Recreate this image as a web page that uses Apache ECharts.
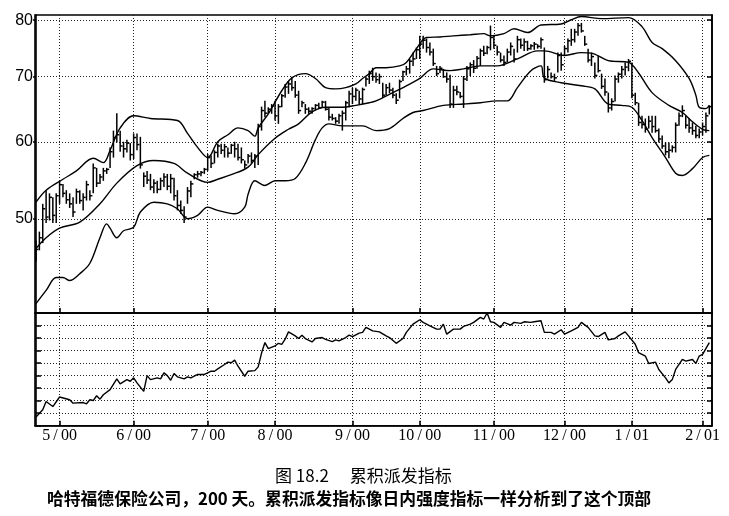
<!DOCTYPE html>
<html>
<head>
<meta charset="utf-8">
<script src="https://cdn.jsdelivr.net/npm/echarts@6/dist/echarts.min.js"></script>
<style>
  html, body { margin: 0; padding: 0; background: #fff; }
  #chart { width: 729px; height: 516px; }
</style>
</head>
<body>
<div id="chart"></div>
<script>
// trading-day index of each month start, and its label
const monthStarts = [7, 29, 51, 71, 94, 114, 136, 157, 177, 198];
const monthLabels = ['5/00', '6/00', '7/00', '8/00', '9/00', '10/00', '11/00', '12/00', '1/01', '2/01'];
const priceTicks = [50, 60, 70, 80];
const priceMin = 40;
const priceMax = 81;

// daily bars, one per trading day
const highs = [
  47.5, 48.5, 51.8, 53.5, 53.1, 52.6, 53.1, 54.7, 54.3, 53.5,
  53.1, 52.6, 53.7, 53.5, 53.1, 54.7, 53.5, 57.0, 56.4, 55.6,
  56.4, 56.4, 59.2, 61.6, 64.2, 61.6, 60.0, 60.3, 59.8, 61.2,
  61.2, 60.7, 55.8, 56.0, 55.6, 54.9, 54.7, 55.1, 55.7, 55.6,
  55.6, 55.1, 53.5, 52.2, 51.5, 53.9, 54.7, 55.7, 56.0, 56.0,
  56.4, 58.3, 58.1, 58.8, 59.7, 59.7, 59.7, 59.2, 59.7, 60.0,
  59.7, 59.2, 57.4, 58.3, 58.5, 58.3, 62.6, 65.2, 66.1, 65.1,
  65.6, 66.1, 65.6, 67.2, 68.8, 69.3, 70.0, 69.3, 67.7, 66.1,
  65.6, 65.1, 65.1, 65.6, 65.8, 66.1, 66.1, 65.1, 64.1, 63.6,
  64.1, 64.6, 66.1, 67.7, 68.2, 68.2, 67.7, 68.2, 70.0, 71.0,
  71.5, 70.7, 70.5, 69.0, 68.8, 69.0, 68.2, 67.3, 69.5, 71.0,
  71.8, 73.0, 74.1, 75.0, 77.1, 77.1, 76.6, 75.9, 74.8, 71.8,
  71.8, 71.3, 70.7, 70.3, 68.5, 68.5, 67.5, 70.1, 71.8, 72.4,
  72.8, 73.5, 74.8, 75.3, 75.3, 79.0, 77.1, 75.3, 74.1, 73.6,
  74.8, 75.9, 74.8, 77.1, 76.6, 76.6, 76.2, 75.6, 76.0, 75.6,
  76.8, 75.0, 71.8, 70.7, 70.5, 74.1, 74.1, 75.3, 76.6, 78.4,
  78.4, 79.5, 79.5, 77.1, 74.8, 74.1, 72.4, 73.6, 70.5, 69.7,
  67.4, 66.5, 70.2, 70.7, 71.8, 72.4, 73.0, 72.4, 67.4, 65.8,
  63.8, 63.4, 63.8, 63.8, 63.8, 61.9, 60.9, 59.9, 59.9, 59.5,
  62.8, 64.3, 65.4, 63.8, 63.4, 62.8, 62.3, 61.9, 62.8, 64.3,
  65.4
];
const lows = [
  45.2, 46.4, 47.2, 49.5, 49.8, 49.5, 49.5, 51.8, 52.6, 51.8,
  51.3, 50.2, 51.8, 51.8, 51.0, 52.2, 52.2, 53.1, 53.9, 54.3,
  54.7, 55.6, 56.4, 57.8, 59.9, 58.6, 57.8, 58.5, 57.4, 57.6,
  58.8, 56.3, 53.9, 54.3, 53.5, 53.1, 53.1, 53.5, 53.9, 53.5,
  53.1, 52.2, 51.0, 50.6, 49.5, 51.8, 52.6, 54.9, 55.1, 55.3,
  55.6, 56.0, 56.4, 57.0, 57.8, 58.3, 57.8, 57.8, 58.3, 57.8,
  57.4, 57.0, 56.3, 57.0, 57.0, 56.4, 56.8, 61.6, 63.6, 64.1,
  64.1, 63.1, 62.6, 65.1, 66.6, 67.2, 67.7, 66.6, 64.1, 65.1,
  64.1, 64.1, 64.1, 64.6, 64.8, 65.1, 64.6, 63.1, 63.1, 62.6,
  62.6, 61.6, 63.1, 65.1, 65.6, 66.1, 65.6, 65.6, 68.4, 68.8,
  69.3, 69.0, 68.8, 66.6, 67.0, 67.3, 66.5, 65.6, 66.5, 69.3,
  70.2, 70.5, 71.8, 73.0, 73.0, 74.8, 74.1, 73.6, 71.8, 70.1,
  70.6, 69.8, 69.0, 65.0, 65.0, 67.0, 66.5, 65.0, 69.3, 70.1,
  70.6, 71.3, 71.8, 73.5, 73.8, 74.5, 74.8, 73.6, 72.4, 71.8,
  72.4, 73.6, 72.4, 74.1, 74.8, 74.4, 74.4, 74.6, 74.6, 74.8,
  74.8, 69.0, 69.7, 69.7, 69.3, 70.7, 71.0, 73.6, 74.1, 75.3,
  75.9, 77.1, 77.7, 75.3, 72.4, 71.8, 69.7, 70.7, 68.0, 66.9,
  64.3, 64.6, 66.0, 69.0, 69.7, 70.2, 70.9, 66.5, 65.4, 62.3,
  61.9, 61.3, 61.9, 61.3, 61.3, 59.9, 59.0, 58.1, 57.7, 58.5,
  58.5, 62.3, 63.6, 61.9, 61.3, 61.0, 60.5, 60.5, 60.9, 61.3,
  64.0
];
const closes = [
  46.5, 47.8, 51.2, 50.2, 52.6, 50.4, 52.8, 54.2, 53.1, 52.3,
  51.8, 50.8, 53.3, 52.2, 52.6, 54.2, 52.8, 56.4, 54.4, 55.2,
  56.0, 56.2, 58.6, 60.6, 61.0, 59.4, 59.0, 59.8, 58.2, 60.6,
  59.6, 56.8, 55.3, 54.8, 53.9, 54.4, 53.6, 54.7, 55.2, 54.0,
  55.0, 52.8, 51.6, 51.0, 50.2, 53.4, 54.3, 55.5, 55.6, 55.8,
  56.2, 57.8, 57.0, 58.5, 59.4, 58.8, 59.3, 58.4, 59.5, 59.0,
  57.8, 57.5, 56.8, 58.0, 57.4, 58.0, 62.2, 64.6, 64.2, 64.8,
  65.3, 63.8, 65.2, 66.9, 68.3, 68.8, 68.2, 67.0, 64.6, 65.8,
  64.8, 64.5, 64.9, 65.4, 65.0, 65.9, 64.8, 63.6, 63.4, 63.0,
  63.8, 64.2, 65.8, 67.2, 66.8, 67.8, 66.4, 67.9, 69.6, 70.5,
  70.0, 69.5, 70.0, 67.0, 68.2, 67.8, 67.0, 66.2, 69.2, 70.8,
  71.3, 72.6, 73.0, 74.6, 75.6, 76.3, 75.0, 74.2, 72.2, 70.5,
  71.4, 70.0, 69.6, 65.6, 67.8, 67.5, 66.8, 69.6, 71.3, 72.0,
  71.4, 73.1, 74.4, 74.0, 75.0, 76.8, 75.4, 74.2, 72.8, 72.4,
  74.2, 75.2, 73.0, 76.4, 75.4, 76.0, 74.8, 75.3, 75.6, 75.2,
  76.4, 69.5, 71.2, 70.0, 69.8, 73.6, 72.0, 74.8, 76.2, 76.4,
  77.8, 79.0, 78.0, 75.6, 72.8, 73.4, 70.2, 71.0, 68.4, 67.5,
  65.0, 66.0, 69.6, 70.4, 71.2, 71.6, 72.6, 67.0, 65.8, 62.8,
  62.5, 61.8, 63.0, 62.2, 61.6, 60.4, 59.4, 58.6, 58.8, 59.2,
  62.4, 63.8, 64.6, 62.4, 62.0, 61.6, 60.9, 61.4, 62.2, 63.8,
  65.2
];

// Bollinger bands: [day, price]
const upperBand = [
  [0, 52.0], [3, 53.5], [8, 54.9], [12, 56.0], [17, 57.7], [20, 57.1], [22, 58.8],
  [25, 62.0], [29, 63.8], [34, 63.4], [42, 63.1], [45, 61.2], [48, 59.2], [51, 57.8],
  [54, 60.0], [57, 61.0], [60, 62.0], [63, 61.6], [65, 60.8], [66, 62.0], [69, 64.1],
  [73, 67.7], [76, 69.8], [80, 70.5], [83, 69.7], [86, 68.2], [89, 68.0], [92, 68.2],
  [95, 68.8], [97, 69.7], [99, 70.5], [101, 71.5], [104, 71.5], [108, 71.8], [110, 72.4],
  [113, 74.8], [116, 76.8], [120, 76.9], [124, 77.1], [129, 77.3], [133, 77.5], [135, 77.1],
  [139, 77.5], [142, 78.4], [146, 77.7], [150, 79.1], [156, 79.3], [159, 80.1], [162, 80.7],
  [168, 80.3], [176, 80.5], [180, 78.8], [183, 75.9], [186, 74.8], [190, 72.7], [194, 69.7],
  [196, 67.0], [197, 65.1], [199, 64.9], [200, 65.4]
];
const middleBand = [
  [0, 46.6], [3, 47.8], [7, 48.9], [13, 49.6], [19, 51.8], [24, 54.4], [30, 56.7],
  [35, 57.4], [41, 57.0], [45, 55.7], [51, 54.5], [54, 54.9], [58, 55.5], [63, 56.5],
  [66, 58.2], [71, 60.5], [75, 61.8], [78, 62.6], [82, 64.4], [86, 65.1], [91, 65.1],
  [95, 65.4], [99, 65.8], [101, 66.1], [106, 67.4], [110, 68.5], [114, 69.7], [118, 71.3],
  [123, 71.0], [127, 71.3], [132, 71.8], [137, 71.8], [143, 73.0], [149, 74.4], [151, 74.4],
  [157, 73.6], [162, 74.1], [165, 74.0], [170, 72.7], [176, 72.4], [179, 70.6], [183, 67.4],
  [188, 65.4], [192, 64.3], [195, 62.9], [198, 61.8], [200, 61.6]
];
const lowerBand = [
  [0, 40.9], [3, 42.2], [6, 43.5], [8, 43.5], [10, 43.2], [13, 43.9], [16, 45.0],
  [19, 47.8], [21, 49.4], [22, 48.9], [24, 47.8], [26, 48.6], [29, 49.0], [31, 50.8],
  [35, 52.0], [39, 51.8], [42, 51.2], [45, 50.0], [48, 50.4], [51, 51.4], [54, 51.0],
  [59, 50.6], [62, 51.4], [63, 53.0], [65, 54.7], [68, 54.1], [71, 54.7], [74, 54.7],
  [77, 55.0], [80, 57.0], [83, 60.3], [85, 62.0], [87, 62.6], [91, 62.3], [97, 62.3],
  [101, 61.6], [105, 61.9], [109, 63.4], [112, 64.3], [115, 64.6], [121, 65.4], [127, 65.6],
  [132, 65.8], [137, 66.1], [140, 66.1], [143, 68.2], [147, 71.0], [150, 71.8], [151, 69.8],
  [156, 69.0], [162, 68.5], [166, 68.0], [170, 65.6], [174, 65.4], [177, 65.1], [180, 63.1],
  [183, 60.6], [187, 57.8], [190, 55.7], [192, 55.4], [195, 56.3], [198, 57.8], [200, 58.1]
];

// accumulation/distribution line, in grid units of the lower panel: [day, value]
const adLine = [
  [0, 0.7], [2, 1.27], [3, 1.93], [5, 1.53], [7, 2.29], [10, 2.07], [11, 1.8], [14, 1.85],
  [15, 1.75], [16, 2.07], [17, 2.01], [18, 2.39], [19, 2.12], [20, 2.47], [22, 2.88],
  [24, 3.74], [25, 3.34], [27, 3.68], [28, 3.55], [29, 3.82], [30, 3.42], [32, 2.74],
  [33, 4.0], [34, 3.68], [36, 3.82], [37, 3.74], [38, 4.22], [39, 4.0], [40, 3.63],
  [41, 4.17], [42, 3.9], [44, 3.74], [45, 3.9], [46, 3.82], [48, 4.09], [50, 4.09],
  [51, 4.22], [52, 4.35], [53, 4.35], [54, 4.54], [56, 4.89], [57, 5.08], [58, 5.03],
  [59, 5.24], [60, 4.75], [62, 3.95], [63, 4.35], [65, 4.4], [66, 4.7], [67, 5.8],
  [68, 6.64], [69, 6.16], [71, 6.37], [72, 6.58], [73, 6.5], [74, 6.91], [75, 7.49],
  [77, 7.17], [78, 6.96], [79, 7.23], [80, 6.96], [82, 6.69], [83, 6.96], [85, 7.04],
  [86, 6.9], [88, 6.72], [89, 6.85], [90, 6.77], [92, 7.04], [93, 7.23], [94, 7.12],
  [96, 7.39], [97, 7.45], [98, 7.85], [100, 7.57], [102, 7.49], [104, 7.17], [105, 7.04],
  [107, 6.58], [109, 6.96], [110, 7.45], [112, 8.11], [114, 8.46], [115, 8.25], [117, 7.98],
  [119, 7.71], [120, 7.71], [121, 8.11], [122, 7.31], [124, 7.71], [126, 7.71], [127, 7.93],
  [129, 8.11], [130, 8.25], [132, 8.65], [133, 8.52], [134, 9.0], [135, 8.3], [136, 8.25],
  [138, 7.85], [139, 8.25], [141, 8.03], [142, 8.25], [144, 8.17], [145, 8.3], [147, 8.25],
  [148, 8.3], [150, 8.38], [151, 7.45], [153, 7.45], [154, 7.31], [156, 7.66], [157, 7.31],
  [159, 7.57], [161, 7.85], [162, 8.25], [164, 7.85], [166, 7.17], [167, 7.12], [169, 7.45],
  [170, 6.85], [172, 6.96], [173, 7.17], [175, 7.49], [176, 7.17], [178, 6.5], [179, 5.83],
  [181, 5.56], [182, 4.97], [184, 5.08], [185, 4.49], [187, 3.82], [188, 3.42], [189, 3.68],
  [190, 4.49], [192, 5.29], [193, 5.16], [195, 5.29], [196, 4.97], [197, 5.56], [198, 5.7],
  [200, 6.64]
];

const captionTitle = '图 18.2\u3000 累积派发指标';
const captionText = '哈特福德保险公司，200 天。累积派发指标像日内强度指标一样分析到了这个顶部';

const bars = highs.map((h, i) => [i, Math.log(h), Math.log(lows[i]), Math.log(closes[i])]);
const toLog = (pts) => pts.map((p) => [p[0], Math.log(p[1])]);

const gridLine = { color: '#222', type: [1, 2], width: 1 };
const frameLine = { color: '#000', width: 1.6 };

function monthLabel(v) {
  const k = monthStarts.indexOf(Math.round(v));
  return k < 0 ? '' : monthLabels[k].replace('/', '\u2009/\u2009');
}

function renderBar(params, api) {
  const i = api.value(0);
  const hi = api.coord([i, api.value(1)]);
  const lo = api.coord([i, api.value(2)]);
  const cl = api.coord([i, api.value(3)]);
  const style = { stroke: '#000', lineWidth: 1.5 };
  return {
    type: 'group',
    children: [
      { type: 'line', shape: { x1: hi[0], y1: hi[1], x2: lo[0], y2: lo[1] }, style: style },
      { type: 'line', shape: { x1: cl[0], y1: cl[1], x2: cl[0] + 2.5, y2: cl[1] }, style: style }
    ]
  };
}

function xAxisFor(gridIndex, withLabels) {
  return {
    gridIndex: gridIndex,
    type: 'value',
    min: -0.3,
    max: 200.8,
    axisLine: { show: true, lineStyle: frameLine },
    axisTick: { show: true, inside: true, length: 5, customValues: monthStarts, lineStyle: { color: '#000', width: 1.6 } },
    axisLabel: {
      show: withLabels,
      customValues: monthStarts,
      formatter: monthLabel,
      margin: 2,
      color: '#000',
      fontSize: 16,
      fontFamily: 'Liberation Serif'
    },
    splitLine: { show: true, lineStyle: gridLine }
  };
}

const chart = echarts.init(document.getElementById('chart'), null, { renderer: 'canvas' });

const option = {
  animation: false,
  backgroundColor: '#fff',
  grid: [
    { left: 35, right: 17, top: 15, height: 298, show: true, borderColor: '#000', borderWidth: 1.6 },
    { left: 35, right: 17, top: 313, height: 112.7, show: true, borderColor: '#000', borderWidth: 1.6 }
  ],
  xAxis: [xAxisFor(0, false), xAxisFor(1, true)],
  yAxis: [
    {
      gridIndex: 0,
      type: 'value',
      min: Math.log(priceMin),
      max: Math.log(priceMax),
      axisLine: { show: true, lineStyle: frameLine },
      axisTick: { show: true, length: 3, customValues: priceTicks.map(Math.log), lineStyle: { color: '#000', width: 1.5 } },
      axisLabel: {
        customValues: priceTicks.map(Math.log),
        formatter: (v) => String(Math.round(Math.exp(v))),
        margin: 2,
        color: '#000',
        fontSize: 16,
        fontFamily: 'Liberation Sans'
      },
      splitLine: { show: true, lineStyle: gridLine }
    },
    {
      gridIndex: 0,
      type: 'value',
      position: 'right',
      min: Math.log(priceMin),
      max: Math.log(priceMax),
      axisLine: { show: true, lineStyle: frameLine },
      axisTick: { show: true, inside: true, length: 5, customValues: priceTicks.map(Math.log), lineStyle: { color: '#000', width: 1.5 } },
      axisLabel: { show: false, customValues: priceTicks.map(Math.log) },
      splitLine: { show: false }
    },
    {
      gridIndex: 1,
      type: 'value',
      min: 0,
      max: 9,
      interval: 1,
      axisLine: { show: true, lineStyle: frameLine },
      axisTick: { show: true, inside: true, length: 5, lineStyle: { color: '#000', width: 1.5 } },
      axisLabel: { show: false },
      splitLine: { show: true, lineStyle: gridLine }
    },
    {
      gridIndex: 1,
      type: 'value',
      position: 'right',
      min: 0,
      max: 9,
      interval: 1,
      axisLine: { show: true, lineStyle: frameLine },
      axisTick: { show: true, inside: true, length: 5, lineStyle: { color: '#000', width: 1.5 } },
      axisLabel: { show: false },
      splitLine: { show: false }
    }
  ],
  series: [
    {
      name: 'Price',
      type: 'custom',
      xAxisIndex: 0,
      yAxisIndex: 0,
      renderItem: renderBar,
      encode: { x: 0, y: [1, 2, 3] },
      data: bars,
      clip: true
    },
    {
      name: 'Upper',
      type: 'line',
      xAxisIndex: 0,
      yAxisIndex: 0,
      data: toLog(upperBand),
      smooth: 0.35,
      symbol: 'none',
      lineStyle: { color: '#000', width: 1.4 }
    },
    {
      name: 'Middle',
      type: 'line',
      xAxisIndex: 0,
      yAxisIndex: 0,
      data: toLog(middleBand),
      smooth: 0.35,
      symbol: 'none',
      lineStyle: { color: '#000', width: 1.4 }
    },
    {
      name: 'Lower',
      type: 'line',
      xAxisIndex: 0,
      yAxisIndex: 0,
      data: toLog(lowerBand),
      smooth: 0.35,
      symbol: 'none',
      lineStyle: { color: '#000', width: 1.4 }
    },
    {
      name: 'A/D',
      type: 'line',
      xAxisIndex: 1,
      yAxisIndex: 2,
      data: adLine,
      symbol: 'none',
      lineStyle: { color: '#000', width: 1.4 }
    }
  ],
  graphic: [
    {
      type: 'text',
      left: 275,
      top: 467,
      style: { text: captionTitle, font: '17px "Noto Sans CJK SC"', fill: '#000' }
    },
    {
      type: 'text',
      left: 47,
      top: 490,
      style: { text: captionText, font: 'bold 16.8px "Noto Sans CJK SC"', fill: '#000' }
    }
  ]
};

chart.setOption(option);
</script>
</body>
</html>
